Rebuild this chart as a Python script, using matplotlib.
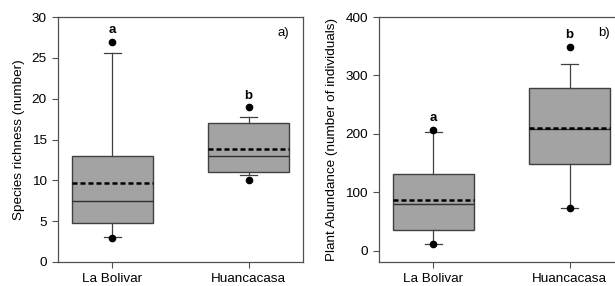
import matplotlib.pyplot as plt

plt.rcParams['font.family'] = ['Liberation Sans', 'DejaVu Sans']
plt.rcParams['font.size'] = 9.7

sites = ['La Bolivar', 'Huancacasa']

# species richness (panel a)
rich_q1 = [4.75, 11.0]
rich_med = [7.5, 13.0]
rich_q3 = [13.0, 17.0]
rich_mean = [9.7, 13.85]
rich_wlo = [3.1, 10.6]
rich_whi = [25.6, 17.8]
rich_fliers = [[27.0, 3.0], [19.0, 10.0]]
rich_letters = ['a', 'b']
rich_letter_y = [28.4, 20.3]

# plant abundance (panel b)
abun_q1 = [35, 148]
abun_med = [80, 208]
abun_q3 = [132, 278]
abun_mean = [87, 210]
abun_wlo = [12, 73]
abun_whi = [204, 320]
abun_fliers = [[207, 12], [348, 73]]
abun_letters = ['a', 'b']
abun_letter_y = [228, 369]


def make_stats(q1, med, q3, mean, wlo, whi, fliers):
    stats = []
    for i in range(len(q1)):
        stats.append(dict(q1=q1[i], med=med[i], q3=q3[i], mean=mean[i],
                          whislo=wlo[i], whishi=whi[i], fliers=fliers[i]))
    return stats


def draw(ax, stats, letters, letter_y, ylabel, tag):
    edge = '#404040'
    ax.bxp(stats, positions=[1, 2], widths=0.6, capwidths=0.13,
           patch_artist=True, showmeans=True, meanline=True,
           boxprops=dict(facecolor='#a3a3a3', edgecolor=edge, linewidth=1.0),
           medianprops=dict(color='#303030', linewidth=1.0),
           meanprops=dict(color='black', linestyle=(0, (2, 1.2)), linewidth=1.8),
           whiskerprops=dict(color=edge, linewidth=0.9),
           capprops=dict(color=edge, linewidth=0.9),
           flierprops=dict(marker='o', markerfacecolor='black',
                           markeredgecolor='black', markersize=4.5))
    for i in range(len(letters)):
        ax.text(i + 1, letter_y[i], letters[i], ha='center', va='center',
                fontweight='bold', fontsize=9.5)
    ax.text(0.92, 0.935, tag, transform=ax.transAxes, ha='center', va='center',
            fontsize=9.5)
    ax.set_xlim(0.6, 2.4)
    ax.set_xticks([1, 2])
    ax.set_xticklabels(sites)
    ax.set_ylabel(ylabel, labelpad=5)
    for s in ax.spines.values():
        s.set_color('#505050')
        s.set_linewidth(0.9)
    ax.tick_params(direction='out', length=4, width=0.8, color='#505050',
                   top=False, right=False, pad=4)


fig = plt.figure(figsize=(6.15, 2.86), dpi=100)
ax1 = fig.add_axes([58 / 615, 1 - 262 / 286, 245 / 615, 245 / 286])
ax2 = fig.add_axes([379 / 615, 1 - 262 / 286, 245 / 615, 245 / 286])

draw(ax1, make_stats(rich_q1, rich_med, rich_q3, rich_mean, rich_wlo,
                     rich_whi, rich_fliers),
     rich_letters, rich_letter_y, 'Species richness (number)', 'a)')
ax1.set_ylim(0, 30)
ax1.set_yticks([0, 5, 10, 15, 20, 25, 30])

draw(ax2, make_stats(abun_q1, abun_med, abun_q3, abun_mean, abun_wlo,
                     abun_whi, abun_fliers),
     abun_letters, abun_letter_y, 'Plant Abundance (number of individuals)', 'b)')
ax2.set_ylim(-19, 400)
ax2.set_yticks([0, 100, 200, 300, 400])

fig.savefig('out.png', dpi=100)
